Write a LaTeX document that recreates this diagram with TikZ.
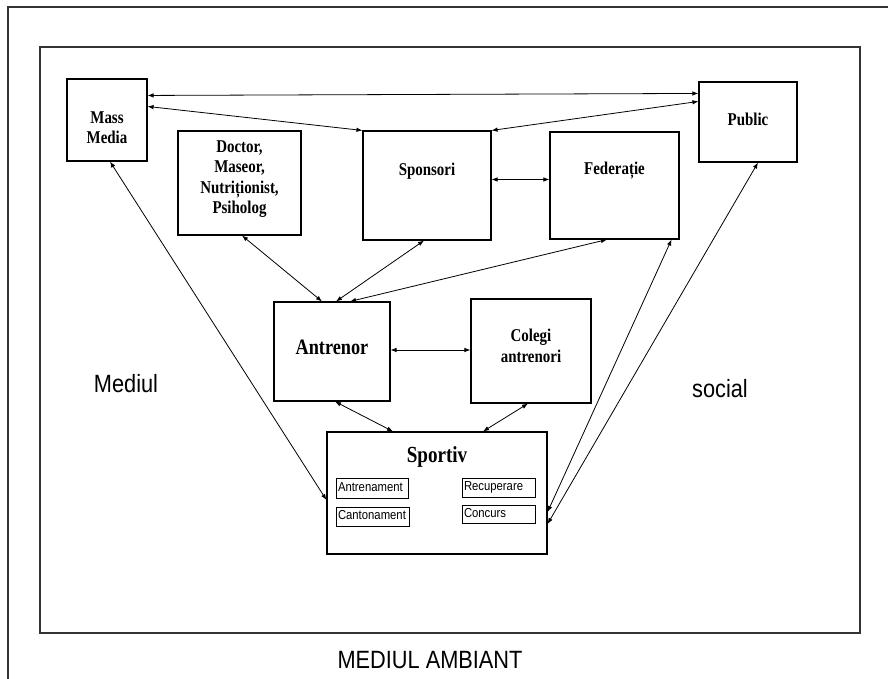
\documentclass[tikz,border=0pt]{standalone}
\usepackage{fontspec}
\newfontfamily\boxfont[FakeStretch=0.83]{Liberation Serif}
\newfontfamily\labfont[FakeStretch=0.87]{Liberation Sans}
\usetikzlibrary{arrows.meta,calc}
\begin{document}
\begin{tikzpicture}[x=1pt,y=-1pt,
  box/.style={draw=black, line width=1.1pt, inner sep=0pt},
  boxtext/.style={anchor=center, inner sep=0pt, align=center,
    font=\boxfont\bfseries\fontsize{18}{20.5}\selectfont},
  subbox/.style={draw=black, line width=0.9pt, inner xsep=2pt, inner ysep=0pt,
    text height=9.5pt, text depth=2.8pt,
    align=left, font=\labfont\fontsize{13}{14}\selectfont},
  biglab/.style={inner sep=0pt, font=\labfont\fontsize{25}{28}\selectfont},
  link/.style={line width=0.8pt, {Latex[length=6pt,width=4.5pt]}-{Latex[length=6pt,width=4.5pt]}},
  frame/.style={draw=black!80, line width=1.2pt}
]
\useasboundingbox (0,0) rectangle (888,679);
\fill[white] (0,0) rectangle (888,679);
\clip (0,0) rectangle (888,679);

% frames
\draw[frame] (8,7) rectangle (930,730);
\draw[frame] (40,47) rectangle (860,633);

% boxes
\node[box, minimum width=80pt, minimum height=82pt,
  label={[boxtext, yshift=-7.5pt]center:{Mass\\Media}}] (mm) at (107,120) {};
\node[box, minimum width=123pt, minimum height=104pt,
  label={[boxtext, yshift=4pt]center:{Doctor,\\Maseor,\\Nutriționist,\\Psiholog}}] (doc) at (239.5,183) {};
\node[box, minimum width=128pt, minimum height=109pt,
  label={[boxtext, yshift=-41pt]north:Sponsori}] (spo) at (427,185.5) {};
\node[box, minimum width=129pt, minimum height=107pt,
  label={[boxtext, yshift=-39.5pt]north:Federație}] (fed) at (614.5,185.5) {};
\node[box, minimum width=98pt, minimum height=80pt,
  label={[boxtext, yshift=3pt]center:Public}] (pub) at (748,122) {};
\node[box, minimum width=116pt, minimum height=99pt,
  label={[boxtext, yshift=4pt, font=\boxfont\bfseries\fontsize{22}{24}\selectfont]center:Antrenor}] (ant) at (332,351.5) {};
\node[box, minimum width=120pt, minimum height=104pt,
  label={[boxtext, yshift=5pt]center:{Colegi\\antrenori}}] (col) at (531,351) {};
\node[box, minimum width=220pt, minimum height=122pt,
  label={[boxtext, yshift=-26pt, font=\boxfont\bfseries\fontsize{23}{25}\selectfont]north:Sportiv}] (spt) at (437,493) {};

% sub boxes
\node[subbox, text width=68pt, minimum height=20pt] (a1) at (372,488) {Antrenament};
\node[subbox, text width=69pt, minimum height=19pt] (a2) at (372.5,516.5) {Cantonament};
\node[subbox, text width=69pt, minimum height=19pt] (r1) at (498.5,487.5) {Recuperare};
\node[subbox, text width=69pt, minimum height=18pt] (r2) at (498.5,514) {Concurs};

% side labels
\node[biglab] (med) at (126,384) {Mediul};
\node[biglab] (soc) at (720,389) {social};
\node[biglab] (amb) at (430,660) {MEDIUL AMBIANT};

% connectors
\draw[link] ($(mm.north east)+(0,17)$) -- ($(pub.north west)+(0,12)$);
\draw[link] ($(mm.north east)+(0,28)$) -- (spo.north west);
\draw[link] ($(pub.north west)+(0,20)$) -- (spo.north east);
\draw[link] ($(spo.east)+(0,-6)$) coordinate (s1) -- (s1 -| fed.west);
\draw[link] ($(mm.south)+(3,0)$) -- ($(spt.west)+(0,7)$);
\draw[link] ($(doc.south)+(2.5,0)$) -- ($(ant.north)+(-10,0)$);
\draw[link] ($(spo.south)+(-3,0)$) -- ($(ant.north)+(4,0)$);
\draw[link] ($(fed.south)+(-7.5,0)$) -- ($(ant.north)+(18,0)$);
\draw[link] ($(fed.south east)+(-8,0)$) -- ($(spt.east)+(0,19)$);
\draw[link] ($(pub.south)+(10,0)$) -- ($(spt.east)+(0,31)$);
\draw[link] ($(ant.east)+(0,-1.5)$) coordinate (s2) -- (s2 -| col.west);
\draw[link] ($(ant.south)+(3,0)$) -- ($(spt.north)+(-44,0)$);
\draw[link] ($(col.south)+(-3,0)$) -- ($(spt.north)+(46,0)$);
\end{tikzpicture}
\end{document}
